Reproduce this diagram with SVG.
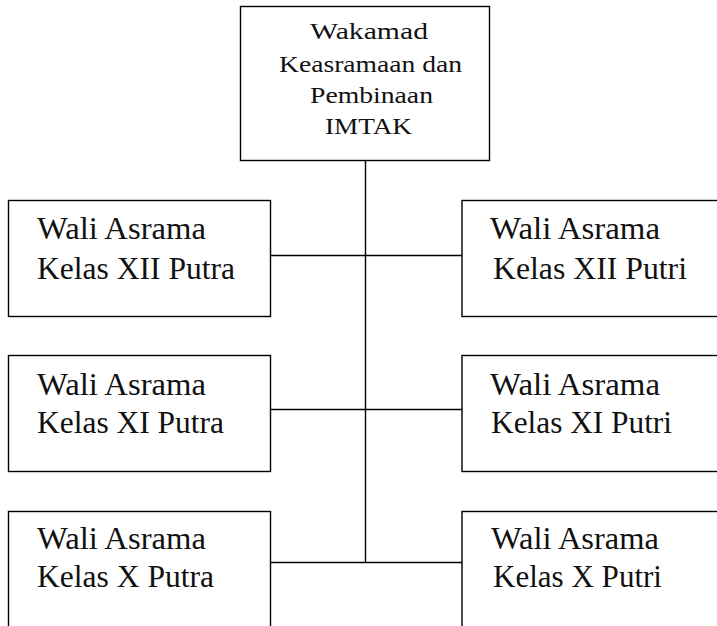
<svg xmlns="http://www.w3.org/2000/svg" width="717" height="626" viewBox="0 0 717 626">
<style>
.box{fill:#fff;stroke:#000;stroke-width:1.4}
.ln{fill:none;stroke:#000;stroke-width:1.4}
.t{font-family:"Liberation Serif","Times New Roman",serif;fill:#111}
.top{font-size:24px}
.lbl{font-size:31px}
</style>
<rect width="717" height="626" fill="#fff"/>
<g id="connectors">
<line class="ln" x1="365.5" y1="160" x2="365.5" y2="562.5"/>
<line class="ln" x1="270.5" y1="255.5" x2="462" y2="255.5"/>
<line class="ln" x1="270.5" y1="409.5" x2="462" y2="409.5"/>
<line class="ln" x1="270.5" y1="562.5" x2="462" y2="562.5"/>
</g>
<g id="wakamad">
<rect class="box" x="240.5" y="6.5" width="249" height="154"/>
<text class="t top" x="310" y="39" textLength="118" lengthAdjust="spacingAndGlyphs">Wakamad</text>
<text class="t top" x="279" y="72" textLength="183" lengthAdjust="spacingAndGlyphs">Keasramaan dan</text>
<text class="t top" x="310" y="103" textLength="123" lengthAdjust="spacingAndGlyphs">Pembinaan</text>
<text class="t top" x="325" y="134" textLength="87" lengthAdjust="spacingAndGlyphs">IMTAK</text>
</g>
<g id="xii-putra">
<rect class="box" x="8.5" y="200.5" width="262" height="116"/>
<text class="t lbl" x="37" y="239" textLength="169" lengthAdjust="spacingAndGlyphs">Wali Asrama</text>
<text class="t lbl" x="37" y="279" textLength="198" lengthAdjust="spacingAndGlyphs">Kelas XII Putra</text>
</g>
<g id="xii-putri">
<rect class="box" x="462" y="200.5" width="300" height="116"/>
<text class="t lbl" x="490" y="239" textLength="170" lengthAdjust="spacingAndGlyphs">Wali Asrama</text>
<text class="t lbl" x="493" y="279" textLength="194" lengthAdjust="spacingAndGlyphs">Kelas XII Putri</text>
</g>
<g id="xi-putra">
<rect class="box" x="8.5" y="355.5" width="262" height="116"/>
<text class="t lbl" x="37" y="395" textLength="169" lengthAdjust="spacingAndGlyphs">Wali Asrama</text>
<text class="t lbl" x="37" y="433" textLength="187" lengthAdjust="spacingAndGlyphs">Kelas XI Putra</text>
</g>
<g id="xi-putri">
<rect class="box" x="462" y="355.5" width="300" height="116"/>
<text class="t lbl" x="490" y="395" textLength="170" lengthAdjust="spacingAndGlyphs">Wali Asrama</text>
<text class="t lbl" x="491" y="433" textLength="181" lengthAdjust="spacingAndGlyphs">Kelas XI Putri</text>
</g>
<g id="x-putra">
<rect class="box" x="8.5" y="511.5" width="262" height="140"/>
<text class="t lbl" x="37" y="549" textLength="169" lengthAdjust="spacingAndGlyphs">Wali Asrama</text>
<text class="t lbl" x="37" y="587" textLength="177" lengthAdjust="spacingAndGlyphs">Kelas X Putra</text>
</g>
<g id="x-putri">
<rect class="box" x="462" y="511.5" width="300" height="140"/>
<text class="t lbl" x="491" y="549" textLength="168" lengthAdjust="spacingAndGlyphs">Wali Asrama</text>
<text class="t lbl" x="493" y="587" textLength="169" lengthAdjust="spacingAndGlyphs">Kelas X Putri</text>
</g>
</svg>
